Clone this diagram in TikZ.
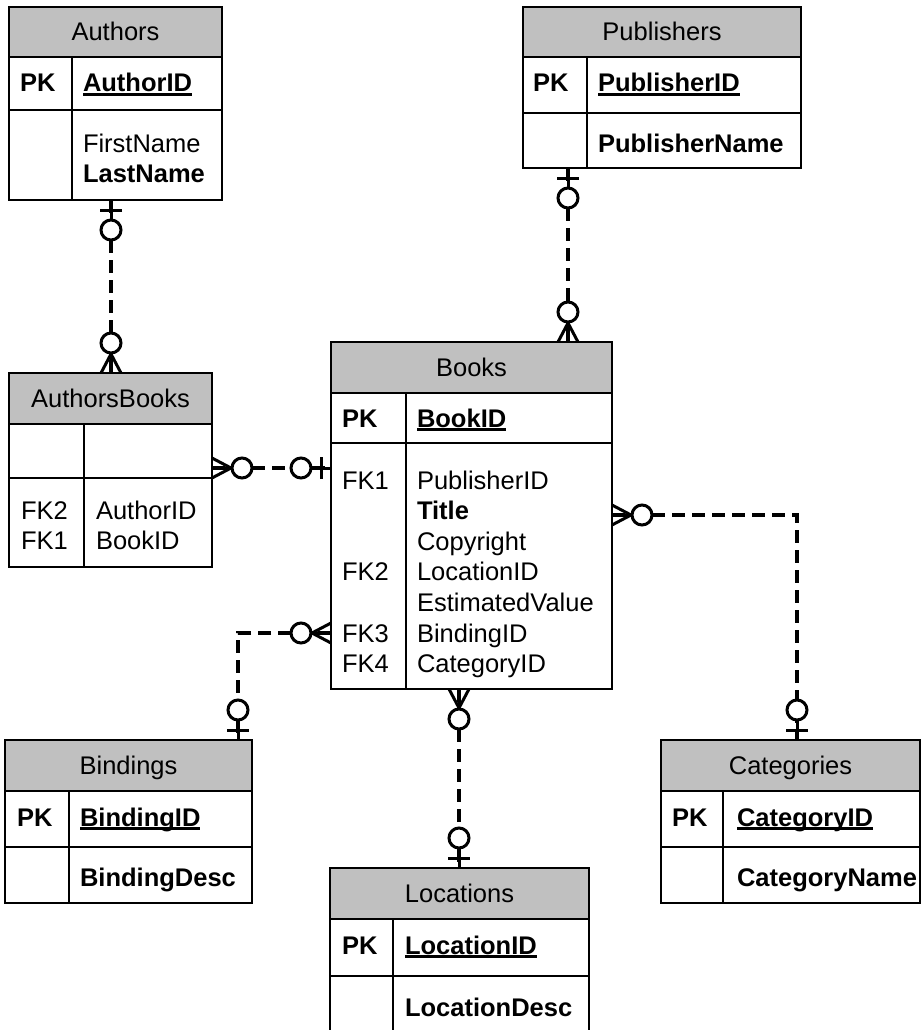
\documentclass[tikz,border=0pt]{standalone}
\usepackage{fontspec}
\setmainfont{Liberation Sans}
\usetikzlibrary{calc}
\newcommand\erfont{\fontsize{25.5pt}{30pt}\selectfont}
\definecolor{hdrgray}{HTML}{C0C0C0}
\tikzset{
  tbl/.style={draw, line width=2.3pt, inner sep=0pt, outer sep=0pt, anchor=north west},
  hdr/.style={tbl, fill=hdrgray, font=\erfont, text height=18pt, text depth=0pt},
  rule/.style={line width=2.3pt},
  fld/.style={inner sep=0pt, outer sep=0pt, anchor=base west, font=\erfont},
  key/.style={fld, font=\erfont\bfseries},
  uline/.style={line width=2.4pt},
  rel/.style={line width=3.2pt, dash pattern=on 13pt off 7pt},
  mk/.style={line width=3pt},
  zeroone/.pic={
    \draw[mk] (0,0) -- (20,0);
    \draw[mk] (10,-11) -- (10,11);
    \draw[mk, fill=white] (30,0) circle[radius=10pt];
  },
  zeromany/.pic={
    \draw[mk] (0,0) -- (20,0);
    \draw[mk] (0,-10) -- (19,0) -- (0,10);
    \draw[mk, fill=white] (30,0) circle[radius=10pt];
  },
}
\begin{document}
\begin{tikzpicture}[x=1pt,y=-1pt]
\useasboundingbox (0,0) rectangle (922,1030);
\clip (0,0) rectangle (922,1030);

% ---------- Authors ----------
\node[hdr, minimum width=213pt, minimum height=50pt] (authorsH) at (9,7) {Authors};
\node[tbl, minimum width=213pt, minimum height=193pt] (authors) at (9,7) {};
\draw[rule] (9,110) -- (222,110);
\draw[rule] (72,57) -- (72,200);
\node[key] (authorsPK) at (20,92) {PK};
\node[key] (authorsId) at (83,92) {AuthorID};
\draw[uline] ($(authorsId.base west)+(0,2.5)$) -- ($(authorsId.base east)+(0,2.5)$);
\node[fld] (authorsFN) at (83,152) {FirstName};
\node[key] (authorsLN) at (83,182) {LastName};

% ---------- Publishers ----------
\node[hdr, minimum width=278pt, minimum height=50pt] (publishersH) at (523,7) {Publishers};
\node[tbl, minimum width=278pt, minimum height=161pt] (publishers) at (523,7) {};
\draw[rule] (523,113) -- (801,113);
\draw[rule] (587,57) -- (587,168);
\node[key] (publishersPK) at (533,92) {PK};
\node[key] (publishersId) at (598,92) {PublisherID};
\draw[uline] ($(publishersId.base west)+(0,2.5)$) -- ($(publishersId.base east)+(0,2.5)$);
\node[key] (publishersName) at (598,152) {PublisherName};

% ---------- AuthorsBooks ----------
\node[hdr, minimum width=203pt, minimum height=51pt] (authorsbooksH) at (9,373) {AuthorsBooks};
\node[tbl, minimum width=203pt, minimum height=194pt] (authorsbooks) at (9,373) {};
\draw[rule] (9,478) -- (212,478);
\draw[rule] (84,424) -- (84,567);
\node[fld] (abFK2) at (21,519) {FK2};
\node[fld] (abAuthor) at (96,519) {AuthorID};
\node[fld] (abFK1) at (21,549) {FK1};
\node[fld] (abBook) at (96,549) {BookID};

% ---------- Books ----------
\node[hdr, minimum width=281pt, minimum height=51pt] (booksH) at (331,342) {Books};
\node[tbl, minimum width=281pt, minimum height=347pt] (books) at (331,342) {};
\draw[rule] (331,443) -- (612,443);
\draw[rule] (406,393) -- (406,689);
\node[key] (booksPK) at (342,427) {PK};
\node[key] (booksId) at (417,427) {BookID};
\draw[uline] ($(booksId.base west)+(0,2.5)$) -- ($(booksId.base east)+(0,2.5)$);
\node[fld] (booksFK1) at (342,489) {FK1};
\node[fld] (booksPub) at (417,489) {PublisherID};
\node[key] (booksTitle) at (417,519) {Title};
\node[fld] (booksCopy) at (417,550) {Copyright};
\node[fld] (booksFK2) at (342,580) {FK2};
\node[fld] (booksLoc) at (417,580) {LocationID};
\node[fld] (booksEst) at (417,611) {EstimatedValue};
\node[fld] (booksFK3) at (342,642) {FK3};
\node[fld] (booksBind) at (417,642) {BindingID};
\node[fld] (booksFK4) at (342,672) {FK4};
\node[fld] (booksCat) at (417,672) {CategoryID};

% ---------- Bindings ----------
\node[hdr, minimum width=247pt, minimum height=51pt] (bindingsH) at (5,740) {Bindings};
\node[tbl, minimum width=247pt, minimum height=163pt] (bindings) at (5,740) {};
\draw[rule] (5,847) -- (252,847);
\draw[rule] (69,791) -- (69,903);
\node[key] (bindingsPK) at (17,826) {PK};
\node[key] (bindingsId) at (80,826) {BindingID};
\draw[uline] ($(bindingsId.base west)+(0,2.5)$) -- ($(bindingsId.base east)+(0,2.5)$);
\node[key] (bindingsDesc) at (80,886) {BindingDesc};

% ---------- Locations ----------
\node[hdr, minimum width=259pt, minimum height=51pt] (locationsH) at (330,868) {Locations};
\node[tbl, minimum width=259pt, minimum height=182pt] (locations) at (330,868) {};
\draw[rule] (330,976) -- (589,976);
\draw[rule] (393,919) -- (393,1050);
\node[key] (locationsPK) at (342,954) {PK};
\node[key] (locationsId) at (405,954) {LocationID};
\draw[uline] ($(locationsId.base west)+(0,2.5)$) -- ($(locationsId.base east)+(0,2.5)$);
\node[key] (locationsDesc) at (405,1016) {LocationDesc};

% ---------- Categories ----------
\node[hdr, minimum width=259pt, minimum height=51pt] (categoriesH) at (661,740) {Categories};
\node[tbl, minimum width=259pt, minimum height=163pt] (categories) at (661,740) {};
\draw[rule] (661,847) -- (920,847);
\draw[rule] (723,791) -- (723,903);
\node[key] (categoriesPK) at (672,826) {PK};
\node[key] (categoriesId) at (737,826) {CategoryID};
\draw[uline] ($(categoriesId.base west)+(0,2.5)$) -- ($(categoriesId.base east)+(0,2.5)$);
\node[key] (categoriesName) at (737,886) {CategoryName};

% ---------- relationship end points ----------
\coordinate (authorsEnd)   at ($(authors.south west)+(102,0)$);
\coordinate (abTop)        at ($(authorsbooks.north west)+(102,0)$);
\coordinate (pubEnd)       at ($(publishers.south west)+(45,0)$);
\coordinate (booksTop)     at ($(books.north west)+(237,0)$);
\coordinate (abRight)      at ($(authorsbooks.north east)+(0,95)$);
\coordinate (booksLeftA)   at ($(books.north west)+(0,126)$);
\coordinate (booksRight)   at ($(books.north east)+(0,173)$);
\coordinate (catTop)       at ($(categories.north west)+(136,0)$);
\coordinate (booksLeftB)   at ($(books.north west)+(0,291)$);
\coordinate (bindTop)      at ($(bindings.north west)+(233,0)$);
\coordinate (booksBottom)  at ($(books.south west)+(128,0)$);
\coordinate (locTop)       at ($(locations.north west)+(129,0)$);

% ---------- relationships ----------
\draw[rel] (authorsEnd) -- (abTop);
\draw[rel] (pubEnd) -- (booksTop);
\draw[rel] (abRight) -- (booksLeftA);
\draw[rel] (booksRight) -| (catTop);
\draw[rel] (booksLeftB) -| (bindTop);
\draw[rel] (booksBottom) -- (locTop);

% ---------- cardinality marks ----------
\pic[rotate=-90] at (authorsEnd) {zeroone};
\pic[rotate=90]  at (abTop) {zeromany};
\pic[rotate=-90] at (pubEnd) {zeroone};
\pic[rotate=90]  at (booksTop) {zeromany};
\pic[rotate=0]   at (abRight) {zeromany};
\pic[rotate=180] at (booksLeftA) {zeroone};
\pic[rotate=0]   at (booksRight) {zeromany};
\pic[rotate=90]  at (catTop) {zeroone};
\pic[rotate=180] at (booksLeftB) {zeromany};
\pic[rotate=90]  at (bindTop) {zeroone};
\pic[rotate=-90] at (booksBottom) {zeromany};
\pic[rotate=90]  at (locTop) {zeroone};
\end{tikzpicture}
\end{document}
